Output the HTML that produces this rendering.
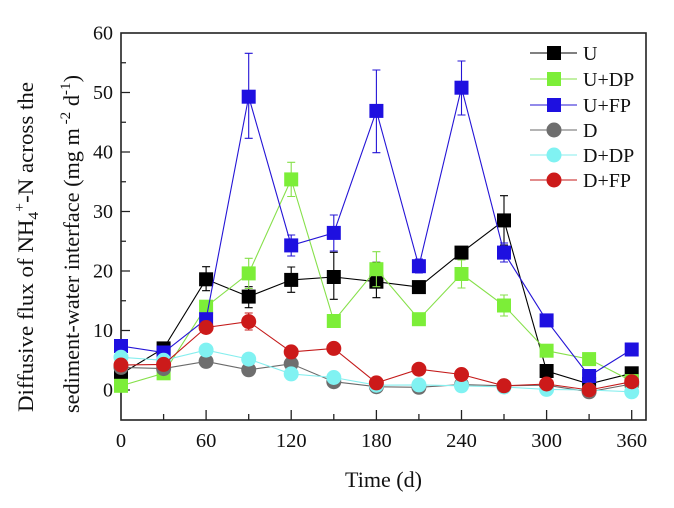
<!DOCTYPE html>
<html><head><meta charset="utf-8"><style>
html,body{margin:0;padding:0;background:#fff;}
svg{display:block;}
text{font-family:"Liberation Serif","Times New Roman",serif;fill:#111;}
</style></head><body>
<svg width="674" height="508" viewBox="0 0 674 508" xmlns="http://www.w3.org/2000/svg">
<rect width="674" height="508" fill="#fff"/>

<!-- ticks -->
<g stroke="#222" stroke-width="1.3">
<path d="M121 390H130M121 330.5H130M121 271H130M121 211.5H130M121 152H130M121 92.5H130"/>
<path d="M121 360.25H126M121 300.75H126M121 241.25H126M121 181.75H126M121 122.25H126M121 62.75H126"/>
<path d="M206.1 420V410M291.2 420V410M376.4 420V410M461.5 420V410M546.6 420V410M631.7 420V410"/>
<path d="M163.6 420V414M248.7 420V414M333.8 420V414M418.9 420V414M504 420V414M589.1 420V414"/>
</g>
<rect x="121" y="33" width="525" height="387" fill="none" stroke="#222" stroke-width="1.6"/>

<!-- y tick labels -->
<g font-size="20" text-anchor="end">
<text x="113" y="39.5">60</text>
<text x="113" y="99">50</text>
<text x="113" y="158.5">40</text>
<text x="113" y="218">30</text>
<text x="113" y="277.5">20</text>
<text x="113" y="337">10</text>
<text x="113" y="396.5">0</text>
</g>
<!-- x tick labels -->
<g font-size="20.5" text-anchor="middle">
<text x="121" y="447">0</text>
<text x="206.1" y="447">60</text>
<text x="291.2" y="447">120</text>
<text x="376.4" y="447">180</text>
<text x="461.5" y="447">240</text>
<text x="546.6" y="447">300</text>
<text x="631.7" y="447">360</text>
</g>
<text x="345" y="487" font-size="22" textLength="77" lengthAdjust="spacingAndGlyphs">Time (d)</text>

<!-- y title -->
<text transform="translate(33,412) rotate(-90)" font-size="22" textLength="330" lengthAdjust="spacingAndGlyphs">Diffusive flux of NH<tspan dy="5" font-size="15">4</tspan><tspan dy="-14" font-size="15">+</tspan><tspan dy="9">-N across the</tspan></text>
<text transform="translate(79,413) rotate(-90)" font-size="22" textLength="338" lengthAdjust="spacingAndGlyphs">sediment-water interface (mg m<tspan dy="-9" font-size="15"> -2</tspan><tspan dy="9"> d</tspan><tspan dy="-9" font-size="15">-1</tspan><tspan dy="9">)</tspan></text>

<!-- U (black) -->
<g stroke="#000" stroke-width="1.1" fill="none">
<path d="M202.1 266.7h8M206.1 266.7V290.7M202.1 290.7h8
M244.7 286.7h8M248.7 286.7V307.7M244.7 307.7h8
M287.2 267h8M291.2 267V292.3M287.2 292.3h8
M329.8 252.3h8M333.8 252.3V299.3M329.8 299.3h8
M372.4 262.3h8M376.4 262.3V297.7M372.4 297.7h8
M457.5 246.6h8M461.5 246.6V258.6M457.5 258.6h8
M500 195.7h8M504 195.7V245M500 245h8"/>
<polyline points="121,374 163.6,348.4 206.1,279.3 248.7,296.6 291.2,279.9 333.8,277 376.4,281.7 418.9,287.1 461.5,252.6 504,220.4 546.6,371 589.1,384 631.7,373.3"/>
</g>
<g fill="#000">
<rect x="114" y="367" width="14" height="14"/><rect x="156.6" y="341.4" width="14" height="14"/><rect x="199.1" y="272.3" width="14" height="14"/><rect x="241.7" y="289.6" width="14" height="14"/><rect x="284.2" y="272.9" width="14" height="14"/><rect x="326.8" y="270" width="14" height="14"/><rect x="369.4" y="274.7" width="14" height="14"/><rect x="411.9" y="280.1" width="14" height="14"/><rect x="454.5" y="245.6" width="14" height="14"/><rect x="497" y="213.4" width="14" height="14"/><rect x="539.6" y="364" width="14" height="14"/><rect x="582.1" y="377" width="14" height="14"/><rect x="624.7" y="366.3" width="14" height="14"/>
</g>

<!-- U+DP (green) -->
<g stroke="#86e04a" stroke-width="1.1" fill="none">
<path d="M244.7 258.3h8M248.7 258.3V288.5M244.7 288.5h8
M287.2 162.3h8M291.2 162.3V196.5M287.2 196.5h8
M372.4 251.7h8M376.4 251.7V286.7M372.4 286.7h8
M457.5 260h8M461.5 260V288M457.5 288h8
M500 295h8M504 295V316M500 316h8"/>
<polyline points="121,385.8 163.6,373.3 206.1,306.7 248.7,273.4 291.2,179.4 333.8,321 376.4,269.2 418.9,319.2 461.5,274 504,305.5 546.6,350.7 589.1,359.1 631.7,381.1"/>
</g>
<g fill="#7cee38">
<rect x="114" y="378.8" width="14" height="14"/><rect x="156.6" y="366.3" width="14" height="14"/><rect x="199.1" y="299.7" width="14" height="14"/><rect x="241.7" y="266.4" width="14" height="14"/><rect x="284.2" y="172.4" width="14" height="14"/><rect x="326.8" y="314" width="14" height="14"/><rect x="369.4" y="262.2" width="14" height="14"/><rect x="411.9" y="312.2" width="14" height="14"/><rect x="454.5" y="267" width="14" height="14"/><rect x="497" y="298.5" width="14" height="14"/><rect x="539.6" y="343.7" width="14" height="14"/><rect x="582.1" y="352.1" width="14" height="14"/><rect x="624.7" y="374.1" width="14" height="14"/>
</g>

<!-- U+FP (blue) -->
<g stroke="#2414d6" stroke-width="1.1" fill="none">
<path d="M244.7 53.3h8M248.7 53.3V138.3M244.7 138.3h8
M287.2 235h8M291.2 235V256M287.2 256h8
M329.8 215h8M333.8 215V251M329.8 251h8
M372.4 70h8M376.4 70V152.7M372.4 152.7h8
M414.9 259h8M418.9 259V273M414.9 273h8
M457.5 61h8M461.5 61V115M457.5 115h8
M500 243h8M504 243V262M500 262h8"/>
<polyline points="121,346 163.6,352.5 206.1,319.2 248.7,96.7 291.2,245.4 333.8,232.9 376.4,110.9 418.9,266.2 461.5,87.7 504,252.6 546.6,320.4 589.1,376 631.7,349.5"/>
</g>
<g fill="#1e10e0">
<rect x="114" y="339" width="14" height="14"/><rect x="156.6" y="345.5" width="14" height="14"/><rect x="199.1" y="312.2" width="14" height="14"/><rect x="241.7" y="89.7" width="14" height="14"/><rect x="284.2" y="238.4" width="14" height="14"/><rect x="326.8" y="225.9" width="14" height="14"/><rect x="369.4" y="103.9" width="14" height="14"/><rect x="411.9" y="259.2" width="14" height="14"/><rect x="454.5" y="80.7" width="14" height="14"/><rect x="497" y="245.6" width="14" height="14"/><rect x="539.6" y="313.4" width="14" height="14"/><rect x="582.1" y="369" width="14" height="14"/><rect x="624.7" y="342.5" width="14" height="14"/>
</g>

<!-- D (gray) -->
<g stroke="#6a6a6a" stroke-width="1.1" fill="none">
<polyline points="121,367.4 163.6,368.6 206.1,361.4 248.7,369.8 291.2,363.8 333.8,381.7 376.4,386.7 418.9,387.3 461.5,384.6 504,385.8 546.6,385.2 589.1,391.8 631.7,384"/>
</g>
<g fill="#6e6e6e">
<circle cx="121" cy="367.4" r="7.5"/><circle cx="163.6" cy="368.6" r="7.5"/><circle cx="206.1" cy="361.4" r="7.5"/><circle cx="248.7" cy="369.8" r="7.5"/><circle cx="291.2" cy="363.8" r="7.5"/><circle cx="333.8" cy="381.7" r="7.5"/><circle cx="376.4" cy="386.7" r="7.5"/><circle cx="418.9" cy="387.3" r="7.5"/><circle cx="461.5" cy="384.6" r="7.5"/><circle cx="504" cy="385.8" r="7.5"/><circle cx="546.6" cy="385.2" r="7.5"/><circle cx="589.1" cy="391.8" r="7.5"/><circle cx="631.7" cy="384" r="7.5"/>
</g>

<!-- D+DP (cyan) -->
<g stroke="#86eeee" stroke-width="1.1" fill="none">
<polyline points="121,357.3 163.6,360.3 206.1,350.1 248.7,359.1 291.2,373.9 333.8,377.5 376.4,385.2 418.9,384.9 461.5,385.8 504,387 546.6,389.4 589.1,390 631.7,391.8"/>
</g>
<g fill="#80f2f2">
<circle cx="121" cy="357.3" r="7.5"/><circle cx="163.6" cy="360.3" r="7.5"/><circle cx="206.1" cy="350.1" r="7.5"/><circle cx="248.7" cy="359.1" r="7.5"/><circle cx="291.2" cy="373.9" r="7.5"/><circle cx="333.8" cy="377.5" r="7.5"/><circle cx="376.4" cy="385.2" r="7.5"/><circle cx="418.9" cy="384.9" r="7.5"/><circle cx="461.5" cy="385.8" r="7.5"/><circle cx="504" cy="387" r="7.5"/><circle cx="546.6" cy="389.4" r="7.5"/><circle cx="589.1" cy="390" r="7.5"/><circle cx="631.7" cy="391.8" r="7.5"/>
</g>

<!-- D+FP (red) -->
<g stroke="#c41a1a" stroke-width="1.1" fill="none">
<path d="M244.7 313h8M248.7 313V330M244.7 330h8"/>
<polyline points="121,365 163.6,364.4 206.1,327.5 248.7,321.6 291.2,351.9 333.8,348.4 376.4,382.9 418.9,369.2 461.5,374.5 504,385.8 546.6,384 589.1,390 631.7,381.7"/>
</g>
<g fill="#cc1a1a">
<circle cx="121" cy="365" r="7.5"/><circle cx="163.6" cy="364.4" r="7.5"/><circle cx="206.1" cy="327.5" r="7.5"/><circle cx="248.7" cy="321.6" r="7.5"/><circle cx="291.2" cy="351.9" r="7.5"/><circle cx="333.8" cy="348.4" r="7.5"/><circle cx="376.4" cy="382.9" r="7.5"/><circle cx="418.9" cy="369.2" r="7.5"/><circle cx="461.5" cy="374.5" r="7.5"/><circle cx="504" cy="385.8" r="7.5"/><circle cx="546.6" cy="384" r="7.5"/><circle cx="589.1" cy="390" r="7.5"/><circle cx="631.7" cy="381.7" r="7.5"/>
</g>

<!-- legend -->
<g stroke-width="1.1">
<line x1="530" y1="53" x2="577" y2="53" stroke="#000"/>
<rect x="547" y="46" width="14" height="14" fill="#000"/>
<line x1="530" y1="79" x2="577" y2="79" stroke="#86e04a"/>
<rect x="547" y="72" width="14" height="14" fill="#7cee38"/>
<line x1="530" y1="105" x2="577" y2="105" stroke="#2414d6"/>
<rect x="547" y="98" width="14" height="14" fill="#1e10e0"/>
<line x1="530" y1="130" x2="577" y2="130" stroke="#6a6a6a"/>
<circle cx="554" cy="130" r="7.5" fill="#6e6e6e"/>
<line x1="530" y1="155" x2="577" y2="155" stroke="#86eeee"/>
<circle cx="554" cy="155" r="7.5" fill="#80f2f2"/>
<line x1="530" y1="180" x2="577" y2="180" stroke="#c41a1a"/>
<circle cx="554" cy="180" r="7.5" fill="#cc1a1a"/>
</g>
<g font-size="20">
<text x="583" y="60">U</text>
<text x="583" y="86">U+DP</text>
<text x="583" y="112">U+FP</text>
<text x="583" y="137">D</text>
<text x="583" y="162">D+DP</text>
<text x="583" y="187">D+FP</text>
</g>
</svg>
</body></html>
